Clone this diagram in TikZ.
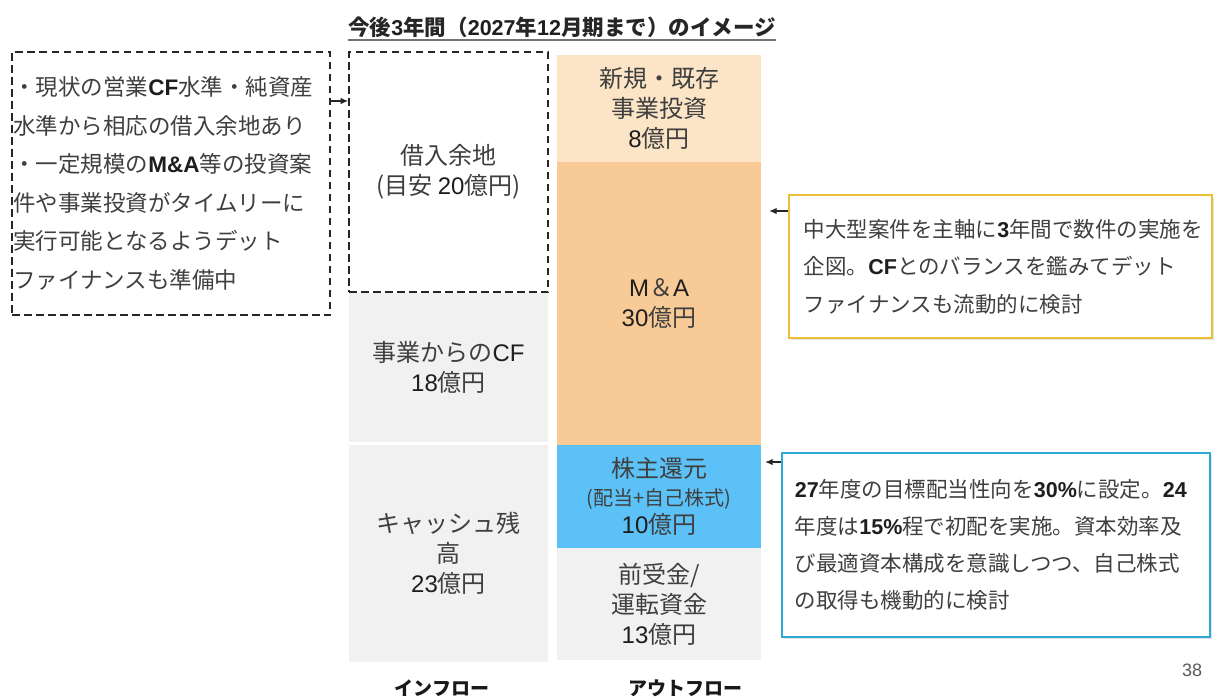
\documentclass[tikz,border=0pt]{standalone}
\usepackage{fontspec}
\setmainfont{Noto Sans CJK JP}
\newfontfamily\lsf{Liberation Sans}
\usetikzlibrary{arrows.meta,shadows}
\definecolor{txt}{HTML}{3F3F3F}
\definecolor{latc}{HTML}{1E1E1E}
\definecolor{gbox}{HTML}{F1F1F1}
\definecolor{peachA}{HTML}{FCE4C6}
\definecolor{peachB}{HTML}{F8CB96}
\definecolor{skyb}{HTML}{5CC1F6}
\definecolor{ybord}{HTML}{EBBE36}
\definecolor{bbord}{HTML}{2EA8D5}
\newcommand\lt[1]{{\lsf\color{latc}#1}}
\newcommand\lb[1]{{\lsf\bfseries\color{latc}#1}}
\begin{document}
\begin{tikzpicture}[x=1pt,y=-1pt,
  block/.style={rectangle, inner sep=0pt, align=center, text=txt, font=\fontsize{24}{30}\selectfont},
  dbox/.style={draw=black!85, dash pattern=on 7.5pt off 4.5pt, line width=1.8pt},
  callout/.style={rectangle, line width=2.5pt, fill=white, inner sep=0pt,
    drop shadow={shadow xshift=1.5pt, shadow yshift=-1.5pt, opacity=0.2}},
  note/.style={inner sep=0pt, align=left, text=txt, font=\fontsize{22.5}{38.5}\selectfont},
  cnote/.style={note, font=\fontsize{21.5}{37.5}\selectfont},
  arr/.style={-{Latex[length=7.5pt,width=6.5pt]}, line width=1.1pt, draw=black!85},
  flowlbl/.style={inner sep=0pt, text=black!90, font=\bfseries\fontsize{19}{22}\selectfont}]

\useasboundingbox (0,0) rectangle (1215,696);
\fill[white] (0,0) rectangle (1215,696);

% title
\node[inner sep=0pt, text=black!85, font=\bfseries\fontsize{21.5}{26}\selectfont] (title) at (562,27)
  {今後\lt{3}年間（\lt{2027}年\lt{12}月期まで）のイメージ};
\draw[line width=1.5pt, black!55] ([yshift=-2.5pt]title.south west) -- ([yshift=-2.5pt]title.south east);

% inflow column
\node[block, dbox, minimum width=199pt, minimum height=240pt] (loan) at (448.5,172)
  {借入余地\\(目安 \lt{20}億円)};
\node[block, fill=gbox, minimum width=199pt, minimum height=149pt] (cf) at (448.5,367)
  {事業からの\lt{CF}\\\lt{18}億円};
\node[block, fill=gbox, minimum width=199pt, minimum height=217pt] (cash) at (448.5,553)
  {キャッシュ残\\高\\\lt{23}億円};

% outflow column
\node[block, fill=peachA, minimum width=204pt, minimum height=107pt] (inv) at (659,108.5)
  {新規・既存\\事業投資\\\lt{8}億円};
\node[block, fill=peachB, minimum width=204pt, minimum height=283pt] (ma) at (659,303.5)
  {\lt{M}＆\lt{A}\\\lt{30}億円};
\node[block, fill=skyb, minimum width=204pt, minimum height=103pt, font=\fontsize{24}{28}\selectfont] (sh) at (659,496.5)
  {株主還元\\{\fontsize{20}{26}\selectfont (配当+自己株式)}\\\lt{10}億円};
\node[block, fill=gbox, minimum width=204pt, minimum height=112pt] (adv) at (659,604)
  {前受金/\\運転資金\\\lt{13}億円};

% left note
\node[dbox, minimum width=318pt, minimum height=263pt, inner sep=0pt] (lbox) at (171,183.5) {};
\node[note, anchor=west] (ltext) at ([xshift=2pt]lbox.west)
  {・現状の営業\lb{CF}水準・純資産\\水準から相応の借入余地あり\\・一定規模の\lb{M\&A}等の投資案\\件や事業投資がタイムリーに\\実行可能となるようデット\\ファイナンスも準備中};
\coordinate (la) at (0,101);
\draw[arr] (lbox.east |- la) -- (loan.west |- la);

% yellow callout
\node[callout, draw=ybord, minimum width=423pt, minimum height=143pt] (ybox) at (1000.5,266.5) {};
\node[cnote, anchor=west] (ytext) at ([xshift=16pt]ybox.west)
  {中大型案件を主軸に\lb{3}年間で数件の実施を\\企図。\lb{CF}とのバランスを鑑みてデット\\ファイナンスも流動的に検討};
\coordinate (ya) at (0,211);
\draw[arr, shorten >=8pt] (ybox.west |- ya) -- (ma.east |- ya);

% blue callout
\node[callout, draw=bbord, minimum width=428pt, minimum height=184pt] (bbox) at (996,545) {};
\node[cnote, anchor=west, font=\fontsize{21.5}{37}\selectfont] (btext) at ([xshift=14pt]bbox.west)
  {\lb{27}年度の目標配当性向を\lb{30\%}に設定。\lb{24}\\年度は\lb{15\%}程で初配を実施。資本効率及\\び最適資本構成を意識しつつ、自己株式\\の取得も機動的に検討};
\coordinate (ba) at (0,462);
\draw[arr, shorten >=4pt] (bbox.west |- ba) -- (sh.east |- ba);

% bottom labels and page number
\node[flowlbl] (inl) at (442,688) {インフロー};
\node[flowlbl] (outl) at (685,688) {アウトフロー};
\node[inner sep=0pt, text=black!65, font=\lsf\fontsize{18}{20}\selectfont] (pg) at (1192,670) {38};
\end{tikzpicture}
\end{document}
